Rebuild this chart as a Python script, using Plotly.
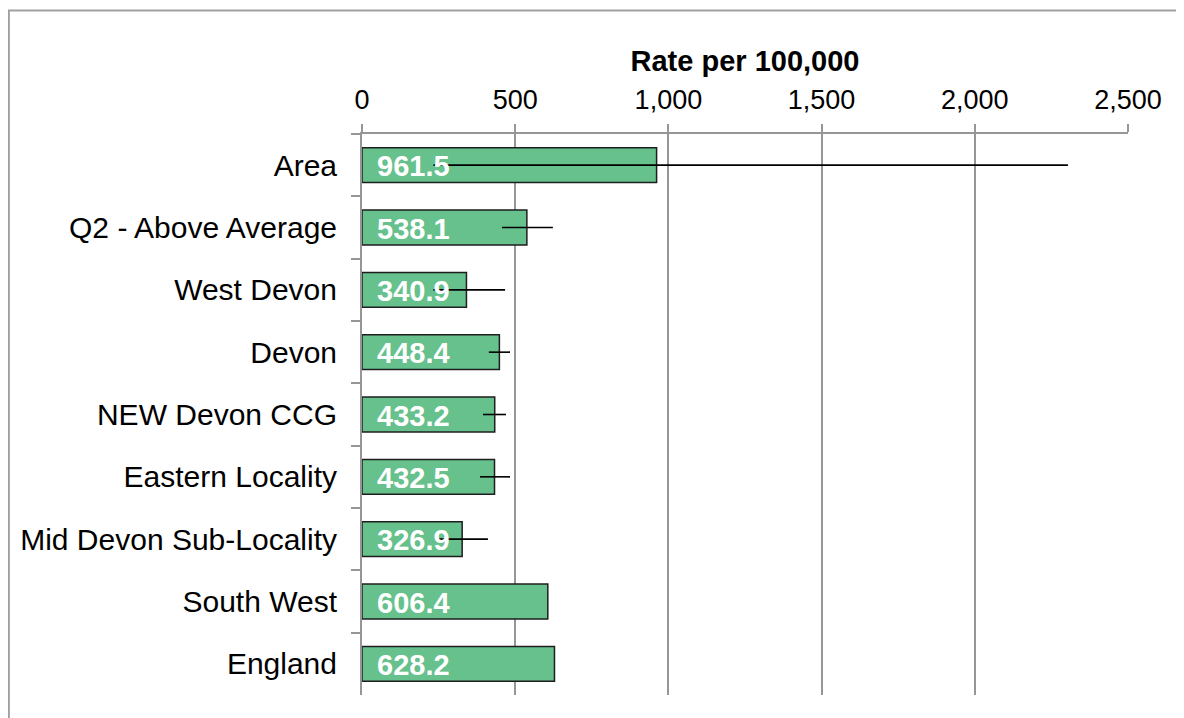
import plotly.graph_objects as go

FONT = "Liberation Sans, Arial, sans-serif"
BAR_COLOR = "#66C18C"
GRID = "#969696"

categories = ["Area", "Q2 - Above Average", "West Devon", "Devon", "NEW Devon CCG",
              "Eastern Locality", "Mid Devon Sub-Locality", "South West", "England"]
values = [961.5, 538.1, 340.9, 448.4, 433.2, 432.5, 326.9, 606.4, 628.2]
ci_lower = [233, 457, 233, 414, 395, 385, 250, None, None]
ci_upper = [2304, 623, 467, 483, 470, 483, 411, None, None]
x_ticks = [0, 500, 1000, 1500, 2000, 2500]

err_plus = [None if u is None else u - v for v, u in zip(values, ci_upper)]
err_minus = [None if l is None else v - l for v, l in zip(values, ci_lower)]

fig = go.Figure(go.Bar(
    y=categories, x=values, orientation="h",
    marker=dict(color=BAR_COLOR, line=dict(color="#1E1E1E", width=1.5)),
    error_x=dict(type="data", symmetric=False, array=err_plus, arrayminus=err_minus,
                 width=0, thickness=1.6, color="black"),
    hoverinfo="x+y",
))

for cat, v in zip(categories, values):
    fig.add_annotation(x=0, y=cat, text=f"<b>{v:.1f}</b>", showarrow=False,
                       xanchor="left", xshift=13, yshift=-1,
                       font=dict(family=FONT, size=29, color="white"))

# outer chart-area border (cut off on right/bottom like the source)
fig.add_shape(type="rect", xref="paper", yref="paper",
              x0=-0.461, x1=1.2, y0=-0.1, y1=1.22,
              line=dict(color="#A0A0A0", width=2), layer="below")

fig.update_layout(
    width=1184, height=718,
    paper_bgcolor="white", plot_bgcolor="white",
    font=dict(family=FONT, size=27, color="black"),
    margin=dict(l=354, r=64, t=126, b=31),
    bargap=0.44,
    showlegend=False,
    xaxis=dict(
        side="top", range=[0, 2500], tickvals=x_ticks, tickformat=",d",
        showgrid=True, gridcolor=GRID, gridwidth=2,
        showline=True, linecolor=GRID, linewidth=2,
        ticks="outside", ticklen=8, tickcolor=GRID, tickwidth=2,
        ticklabelstandoff=4, zeroline=False,
        title=dict(text="<b>Rate per 100,000</b>", font=dict(size=29), standoff=5),
    ),
    yaxis=dict(
        categoryorder="array", categoryarray=categories, autorange="reversed",
        showline=True, linecolor=GRID, linewidth=2,
        ticks="outside", tickson="boundaries", ticklen=9, tickcolor=GRID, tickwidth=2,
        showgrid=False, ticklabelstandoff=17, tickfont=dict(size=30),
    ),
)

fig.write_html("out.html")
